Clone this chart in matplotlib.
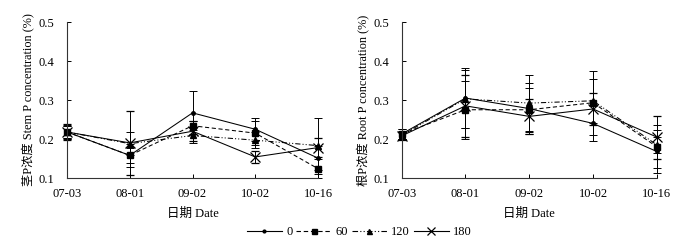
import matplotlib
matplotlib.use("Agg")
import matplotlib.pyplot as plt
from matplotlib.lines import Line2D

dates = ["07-03", "08-01", "09-02", "10-02", "10-16"]
series_names = ["0", "60", "120", "180"]

stem_0 = [0.218, 0.158, 0.267, 0.225, 0.151]
stem_60 = [0.218, 0.158, 0.234, 0.215, 0.124]
stem_120 = [0.218, 0.188, 0.209, 0.197, 0.183]
stem_180 = [0.218, 0.190, 0.220, 0.154, 0.178]
stem_err_0 = [0.018, 0.030, 0.055, 0.030, 0.030]
stem_err_60 = [0.015, 0.020, 0.012, 0.030, 0.025]
stem_err_120 = [0.016, 0.030, 0.018, 0.020, 0.072]
stem_err_180 = [0.020, 0.083, 0.025, 0.015, 0.025]

root_0 = [0.213, 0.305, 0.278, 0.240, 0.168]
root_60 = [0.213, 0.275, 0.275, 0.293, 0.180]
root_120 = [0.210, 0.303, 0.292, 0.298, 0.185]
root_180 = [0.208, 0.285, 0.258, 0.277, 0.205]
root_err_0 = [0.012, 0.078, 0.065, 0.045, 0.055]
root_err_60 = [0.012, 0.075, 0.055, 0.082, 0.055]
root_err_120 = [0.010, 0.075, 0.073, 0.057, 0.020]
root_err_180 = [0.010, 0.080, 0.045, 0.040, 0.055]

serif = ["Liberation Serif", "Noto Sans CJK SC"]
plt.rcParams["font.family"] = serif

styles = [
    dict(marker="o", ms=2.5, ls="-"),
    dict(marker="s", ms=4.5, ls=(0, (4, 2.5))),
    dict(marker="^", ms=4.5, ls=(0, (5, 2, 1, 2, 1, 2))),
    dict(marker="x", ms=7, ls="-", mew=0.9),
]

fig = plt.figure(figsize=(6.95, 2.41), dpi=100)
ax1 = fig.add_axes([0.0964, 0.2614, 0.3612, 0.6473])
ax2 = fig.add_axes([0.578, 0.2614, 0.367, 0.6473])

def draw(ax, vals, errs, ylabel):
    x = list(range(len(dates)))
    for v, e, st in zip(vals, errs, styles):
        ax.errorbar(x, v, yerr=e, color="black", lw=0.75, elinewidth=0.7,
                    capsize=3, capthick=0.7, clip_on=False, **st)
    ax.set_xlim(0, 4)
    ax.set_ylim(0.1, 0.5)
    ax.set_yticks([0.1, 0.2, 0.3, 0.4, 0.5])
    ax.set_yticklabels(["0.1", "0.2", "0.3", "0.4", "0.5"])
    ax.set_xticks(x)
    ax.set_xticklabels(dates)
    for s in ["top", "right"]:
        ax.spines[s].set_visible(False)
    for s in ["left", "bottom"]:
        ax.spines[s].set_linewidth(0.8)
        ax.spines[s].set_color("#333333")
    ax.tick_params(axis="y", direction="in", length=3, width=0.7, labelsize=9, pad=9)
    ax.tick_params(axis="x", direction="in", length=3, width=0.7, labelsize=9, pad=7)
    ax.set_xlabel("日期 Date", fontsize=9, labelpad=6)
    ax.set_ylabel(ylabel, fontsize=8.8, labelpad=3)

draw(ax1, [stem_0, stem_60, stem_120, stem_180],
     [stem_err_0, stem_err_60, stem_err_120, stem_err_180],
     "茎P浓度 Stem P concentration (%)")
draw(ax2, [root_0, root_60, root_120, root_180],
     [root_err_0, root_err_60, root_err_120, root_err_180],
     "根P浓度 Root P concentration (%)")

handles = [Line2D([], [], color="black", lw=0.8, **st) for st in styles]
fig.legend(handles, series_names, loc="center", bbox_to_anchor=(0.517, 0.037),
           ncol=4, frameon=False, fontsize=9, handlelength=2.8,
           columnspacing=0.3, handletextpad=0.35, markerscale=0.8)

fig.savefig("out.png", dpi=100)
